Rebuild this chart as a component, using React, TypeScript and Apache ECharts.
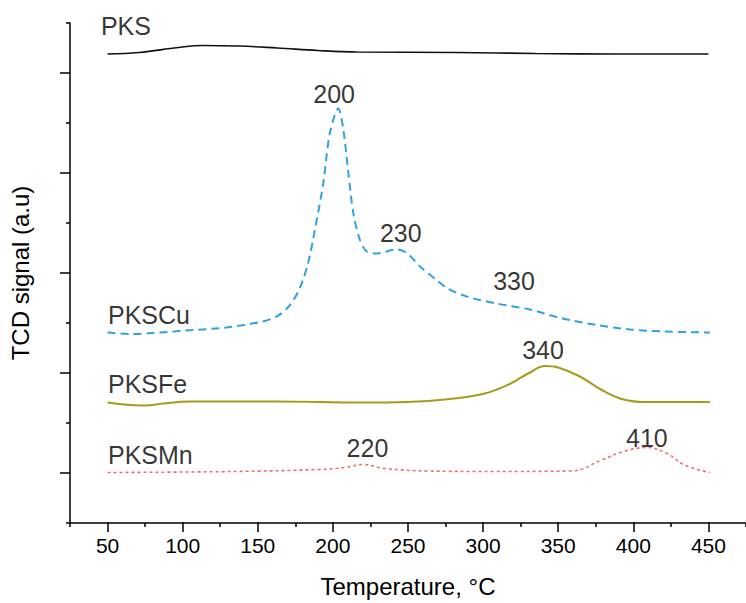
import React, { useEffect, useRef } from "react";
import * as echarts from "echarts";

// Temperature (°C) / TCD signal (a.u.) pairs
const pks: [number, number][] = [
  [50, 9.38], [71, 9.41], [97, 9.51], [113, 9.55], [137, 9.54], [163, 9.5],
  [190, 9.45], [216, 9.42], [282, 9.41], [335, 9.39], [388, 9.38], [450, 9.38],
];
const pksCu: [number, number][] = [
  [50, 3.81], [65, 3.78], [85, 3.81], [107, 3.86], [129, 3.91], [151.5, 4.02],
  [162.6, 4.13], [171.5, 4.36], [178, 4.7], [183.5, 5.2], [188, 5.86], [193.6, 6.8],
  [198, 7.8], [203.6, 8.29], [207, 7.86], [210.3, 7.0], [213.6, 6.2], [218, 5.66],
  [222.5, 5.43], [229.2, 5.39], [242.5, 5.47], [249.2, 5.4], [258, 5.13], [269, 4.86],
  [275.8, 4.7], [289, 4.53], [309, 4.39], [331, 4.27], [353, 4.09], [375.7, 3.96],
  [397.8, 3.87], [420, 3.83], [451, 3.81],
];
const pksFe: [number, number][] = [
  [50, 2.41], [61, 2.37], [75.6, 2.35], [87, 2.39], [104.6, 2.43], [162, 2.43],
  [220, 2.41], [249, 2.42], [278, 2.48], [301, 2.59], [318.3, 2.79], [330, 2.99],
  [341.4, 3.14], [350, 3.11], [364.5, 2.93], [379, 2.66], [393.5, 2.47], [407.8, 2.42],
  [451, 2.42],
];
const pksMn: [number, number][] = [
  [50, 1.01], [133.5, 1.03], [191.2, 1.07], [208, 1.11], [220, 1.17], [234.6, 1.09],
  [263.5, 1.04], [306.8, 1.03], [358.8, 1.04], [379, 1.26], [393.5, 1.43], [409, 1.51],
  [422.4, 1.39], [434, 1.16], [451, 1.01],
];

// Curve names written next to the curves
const curveNames = ["PKS", "PKSCu", "PKSFe", "PKSMn"];
const curveNameX = [45.6, 50.3, 50.3, 50.3];
const curveNameY = [9.95, 4.16, 2.78, 1.36];

// Peak temperature annotations
const peakTexts = ["200", "230", "330", "340", "220", "410"];
const peakX = [200.8, 245.2, 320.6, 339.9, 223, 409];
const peakY = [8.58, 5.81, 4.84, 3.46, 1.5, 1.71];

// Axis ticks
const xTickLabels = [50, 100, 150, 200, 250, 300, 350, 400, 450];

const FONT = "'Liberation Sans', Arial, Helvetica, sans-serif";

export default function App() {
  const ref = useRef<HTMLDivElement>(null);

  useEffect(() => {
    if (!ref.current) return;
    const chart = echarts.init(ref.current, undefined, { renderer: "svg" });
    const black = "#000";
    const option: any = {
      animation: false,
      backgroundColor: "#fff",
      textStyle: { fontFamily: FONT },
      grid: [
        { left: 70, right: 0, top: 23, bottom: 80 }, // data grid
        { left: 70, right: 0, top: 73, bottom: 130 }, // long y ticks
        { left: 107.55, right: 37.6, top: 23, bottom: 80 }, // labelled x ticks
      ],
      xAxis: [
        {
          gridIndex: 0, type: "value", min: 25, max: 475, interval: 50,
          axisLine: { show: true, onZero: false, lineStyle: { color: black, width: 1.5 } },
          axisTick: { show: true, length: 4, lineStyle: { color: black, width: 1.5 } },
          axisLabel: { show: false }, splitLine: { show: false },
        },
        {
          gridIndex: 1, type: "value", min: 25, max: 475, show: false,
        },
        {
          gridIndex: 2, type: "value", min: xTickLabels[0], max: xTickLabels[xTickLabels.length - 1], interval: 50,
          axisLine: { show: false },
          axisTick: { show: true, length: 10, lineStyle: { color: black, width: 1.5 } },
          axisLabel: { show: true, color: black, fontSize: 21, fontFamily: FONT, margin: 13 },
          splitLine: { show: false },
          name: "Temperature, \u00B0C", nameLocation: "middle", nameGap: 52,
          nameTextStyle: { color: black, fontSize: 24, fontFamily: FONT },
        },
      ],
      yAxis: [
        {
          gridIndex: 0, type: "value", min: 0, max: 10, interval: 2,
          axisLine: { show: true, onZero: false, lineStyle: { color: black, width: 1.5 } },
          axisTick: { show: true, length: 4, lineStyle: { color: black, width: 1.5 } },
          axisLabel: { show: false }, splitLine: { show: false },
          name: "TCD signal (a.u)", nameLocation: "middle", nameGap: 38, nameRotate: 90,
          nameTextStyle: { color: black, fontSize: 24, fontFamily: FONT },
        },
        {
          gridIndex: 1, type: "value", min: 0, max: 8, interval: 2,
          axisLine: { show: false },
          axisTick: { show: true, length: 10, lineStyle: { color: black, width: 1.5 } },
          axisLabel: { show: false }, splitLine: { show: false },
        },
        {
          gridIndex: 2, type: "value", min: 0, max: 10, show: false,
        },
      ],
      series: [
        {
          type: "line", xAxisIndex: 0, yAxisIndex: 0, data: pks, smooth: 0.4,
          showSymbol: false, silent: true,
          lineStyle: { color: "#111", width: 1.6 },
        },
        {
          type: "line", xAxisIndex: 0, yAxisIndex: 0, data: pksCu, smooth: 0.3,
          showSymbol: false, silent: true,
          lineStyle: { color: "#2ea3e0", width: 2, type: [8, 5] },
        },
        {
          type: "line", xAxisIndex: 0, yAxisIndex: 0, data: pksFe, smooth: 0.4,
          showSymbol: false, silent: true,
          lineStyle: { color: "#a59c1c", width: 2 },
        },
        {
          type: "line", xAxisIndex: 0, yAxisIndex: 0, data: pksMn, smooth: 0.4,
          showSymbol: false, silent: true,
          lineStyle: { color: "#ee6c78", width: 1.6, type: [3, 3] },
        },
        {
          type: "scatter", xAxisIndex: 0, yAxisIndex: 0, symbolSize: 0, silent: true,
          data: curveNames.map((n, i) => ({ name: n, value: [curveNameX[i], curveNameY[i]] })),
          label: {
            show: true, position: "inside", align: "left", verticalAlign: "middle",
            formatter: (p: any) => p.name, color: black, fontSize: 25, fontFamily: FONT,
          },
        },
        {
          type: "scatter", xAxisIndex: 0, yAxisIndex: 0, symbolSize: 0, silent: true,
          data: peakTexts.map((n, i) => ({ name: n, value: [peakX[i], peakY[i]] })),
          label: {
            show: true, position: "inside", align: "center", verticalAlign: "middle",
            formatter: (p: any) => p.name, color: black, fontSize: 25, fontFamily: FONT,
          },
        },
      ],
    };
    chart.setOption(option);
    return () => chart.dispose();
  }, []);

  return (
    <div
      ref={ref}
      style={{ position: "absolute", left: 0, top: 0, width: 746, height: 603, background: "#fff" }}
    />
  );
}
